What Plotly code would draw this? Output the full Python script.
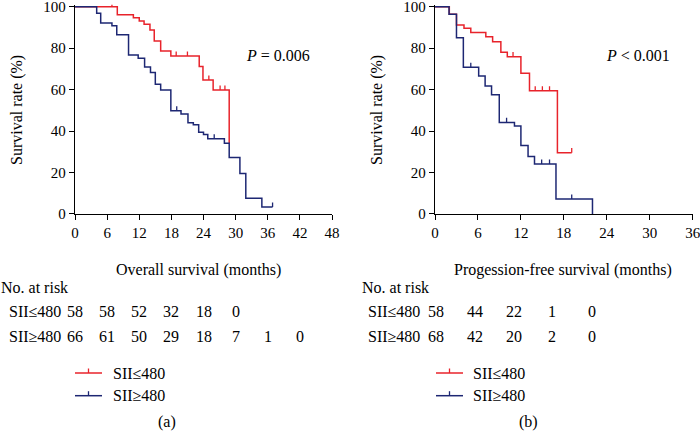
import plotly.graph_objects as go

# ---------------- data ----------------
os_low_t = [0, 7.9, 10.9, 12.0, 12.9, 14.0, 14.8, 16.0, 17.9, 23.2, 23.9, 25.8, 28.8]
os_low_s = [100, 96.1, 94.7, 93.1, 91.5, 88.8, 83.5, 78.6, 76.2, 71.1, 64.6, 59.8, 34.1]
os_low_cens = [6.9, 18.9, 21.0, 25.0, 27.1, 28.0]

os_high_t = [0, 4.05, 4.8, 6.9, 7.8, 10.0, 11.8, 13.0, 14.1, 15.0, 16.0, 17.9, 19.8, 21.1,
             22.1, 23.1, 24.0, 24.8, 27.9, 28.8, 30.8, 31.9, 34.9, 36.9]
os_high_s = [100, 96.8, 92.1, 90.8, 86.5, 76.7, 75.1, 70.9, 68.2, 62.6, 59.8, 49.8, 48.2, 44.0,
             43.1, 39.4, 38.4, 36.3, 34.1, 27.3, 19.5, 7.6, 3.4, 3.4]
os_high_cens = [19.0, 26.0, 36.9]

pfs_low_t = [0, 2.0, 3.0, 4.05, 5.0, 7.1, 8.05, 9.2, 10.1, 12.0, 13.2, 17.1, 19.1]
pfs_low_s = [100, 96.3, 91.2, 89.6, 87.6, 85.5, 83.1, 78.0, 75.9, 67.9, 59.4, 29.6, 29.6]
pfs_low_cens = [10.9, 14.0, 15.0, 16.0, 19.1]

pfs_high_t = [0, 1.96, 3.0, 3.96, 6.1, 7.0, 7.9, 8.98, 11.1, 12.0, 13.0, 13.9, 16.9, 22.0]
pfs_high_s = [100, 96.3, 85.0, 70.8, 66.6, 61.7, 57.5, 44.2, 42.4, 33.1, 27.7, 24.1, 7.2, 0]
pfs_high_cens = [5.0, 10.0, 14.9, 16.0, 19.1]

group_labels = ["SII≤480", "SII≥480"]
os_risk_low = [58, 58, 52, 32, 18, 0]
os_risk_high = [66, 61, 50, 29, 18, 7, 1, 0]
os_risk_times = [0, 6, 12, 18, 24, 30, 36, 42]
pfs_risk_low = [58, 44, 22, 1, 0]
pfs_risk_high = [68, 42, 20, 2, 0]

os_ticks = [0, 6, 12, 18, 24, 30, 36, 42, 48]
pfs_ticks = [0, 6, 12, 18, 24, 30, 36]
y_ticks = [0, 20, 40, 60, 80, 100]
p_texts = ["<i>P</i> = 0.006", "<i>P</i> < 0.001"]
x_titles = ["Overall survival (months)", "Progession-free survival (months)"]
panel_labels = ["(a)", "(b)"]

RED = "#e8232b"
BLUE = "#1d2773"
FONT = "Liberation Serif"
W, H = 700, 432


def px(x):
    return x / W


def py(y):
    return 1 - y / H


def step_value(ts, ss, t):
    v = ss[0]
    for ti, si in zip(ts, ss):
        if ti <= t:
            v = si
    return v


def cens_xy(ts, ss, cens, h=2.2):
    xs, ys = [], []
    for c in cens:
        v = step_value(ts, ss, c)
        xs += [c, c, None]
        ys += [v, v + h, None]
    return xs, ys


fig = go.Figure()

panels = [
    ("x", "y", [(os_low_t, os_low_s, os_low_cens, RED), (os_high_t, os_high_s, os_high_cens, BLUE)]),
    ("x2", "y2", [(pfs_low_t, pfs_low_s, pfs_low_cens, RED), (pfs_high_t, pfs_high_s, pfs_high_cens, BLUE)]),
]
for xa, ya, curves in panels:
    for ts, ss, cens, col in curves:
        fig.add_trace(go.Scatter(x=ts, y=ss, mode="lines", line=dict(color=col, width=1.5, shape="hv"),
                                 xaxis=xa, yaxis=ya, showlegend=False, hoverinfo="skip"))
        cx, cy = cens_xy(ts, ss, cens)
        fig.add_trace(go.Scatter(x=cx, y=cy, mode="lines", line=dict(color=col, width=1.3),
                                 xaxis=xa, yaxis=ya, showlegend=False, hoverinfo="skip"))

y0_px, y100_px = 214.0, 6.7
ppu = (y0_px - y100_px) / 100
ytop = 101
ydom = [py(y0_px), py(y0_px - ytop * ppu)]

axis_common = dict(showline=True, linecolor="black", linewidth=1.3, ticks="outside", ticklen=5,
                   tickwidth=1.3, tickcolor="black", showgrid=False, zeroline=False,
                   ticklabeloverflow="allow", automargin=False,
                   tickfont=dict(family=FONT, size=15, color="black"))

fig.update_layout(
    width=W, height=H, margin=dict(l=0, r=0, t=0, b=0, autoexpand=False),
    paper_bgcolor="white", plot_bgcolor="white",
    xaxis=dict(domain=[px(75), px(332)], range=[0, 48], tickvals=os_ticks, anchor="y", **axis_common),
    yaxis=dict(domain=ydom, range=[0, ytop], tickvals=y_ticks, anchor="x", **axis_common),
    xaxis2=dict(domain=[px(435), px(692.7)], range=[0, 36], tickvals=pfs_ticks, anchor="y2", **axis_common),
    yaxis2=dict(domain=ydom, range=[0, ytop], tickvals=y_ticks, anchor="x2", **axis_common),
)

ann = []
shapes = []
tf = dict(family=FONT, size=16, color="black")


def A(x, y, text, xanchor="center", xref="paper", **kw):
    d = dict(x=x, y=y, xref=xref, yref="paper", text=text, showarrow=False, font=tf,
             xanchor=xanchor, yanchor="middle")
    d.update(kw)
    ann.append(d)


# y-axis titles
for xc in [17, 377]:
    A(px(xc), py(110), "Survival rate (%)", textangle=-90)
# p values
for xc, t in zip([278, 638], p_texts):
    A(px(xc), py(55), t)
# x titles
for xc, t in zip([198, 563], x_titles):
    A(px(xc), py(270), t)
# No. at risk
for xl in [-1, 360]:
    A(px(xl), py(287), "No. at risk", xanchor="left")
# risk tables
row_y = [311, 336]
for xl in [7, 366]:
    for r, lab in enumerate(group_labels):
        A(px(xl), py(row_y[r]), lab, xanchor="left")
for r, vals in enumerate([os_risk_low, os_risk_high]):
    for t, v in zip(os_risk_times, vals):
        A(t, py(row_y[r]), str(v), xref="x")
pfs_cols_px = [436, 475, 514, 552, 592]
for r, vals in enumerate([pfs_risk_low, pfs_risk_high]):
    for xc, v in zip(pfs_cols_px, vals):
        A(px(xc), py(row_y[r]), str(v))
# legends
leg_y = [373, 395.7]
for x0, x1, xt in [(75, 102, 111), (436, 463, 471)]:
    for r, (lab, col) in enumerate(zip(group_labels, [RED, BLUE])):
        shapes.append(dict(type="line", xref="paper", yref="paper", x0=px(x0), x1=px(x1),
                           y0=py(leg_y[r]), y1=py(leg_y[r]), line=dict(color=col, width=1.5)))
        xm = (x0 + x1) / 2
        shapes.append(dict(type="line", xref="paper", yref="paper", x0=px(xm), x1=px(xm),
                           y0=py(leg_y[r]), y1=py(leg_y[r] - 4.5), line=dict(color=col, width=1.3)))
        A(px(xt), py(leg_y[r]), lab, xanchor="left")
# panel labels
for xc, t in zip([167, 528], panel_labels):
    A(px(xc), py(422), t)

fig.update_layout(annotations=ann, shapes=shapes)
fig.write_html("out.html", config={"displayModeBar": False},
               post_script="document.body.style.margin='0';document.body.style.overflow='hidden';")
